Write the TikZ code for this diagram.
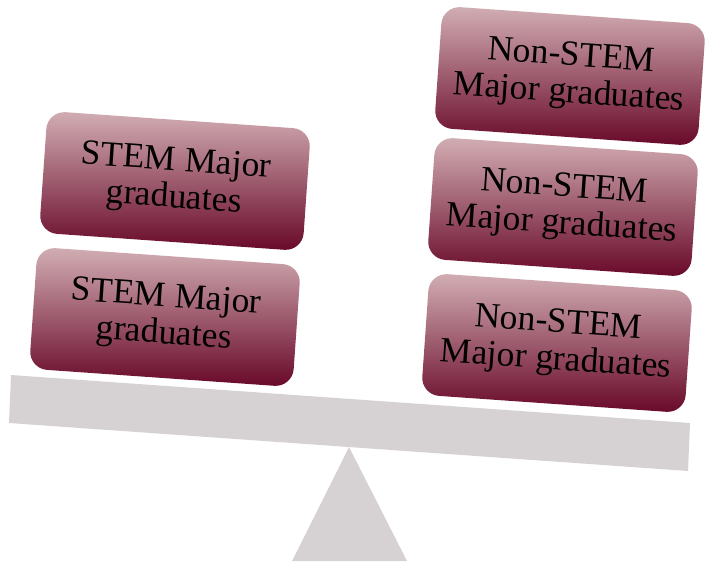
\documentclass[tikz,border=0pt]{standalone}
\usepackage{fontspec}
\setmainfont{Liberation Serif}
\definecolor{boxtop}{RGB}{210,174,180}
\definecolor{boxbot}{RGB}{104,8,40}
\definecolor{beam}{RGB}{214,210,211}

\begin{document}
\begin{tikzpicture}[x=1pt,y=1pt]
\tikzstyle{grad}=[rectangle, rounded corners=18pt, minimum width=264pt, minimum height=122pt, inner sep=0pt, top color=boxtop, bottom color=boxbot, rotate=-4, align=center, font=\fontsize{35.5}{37}\selectfont]
\useasboundingbox (0,0) rectangle (707,-564);
% seesaw
\fill [beam] (11,-375) -- (690,-423) -- (688,-471) -- (9,-423) -- cycle;
\fill [beam] (349,-447) -- (407,-561) -- (292,-561) -- cycle;
% left pile
\node [grad] (stemA) at (165,-317) {STEM Major\\graduates};
\node [grad] (stemB) at (175,-181) {STEM Major\\graduates};
% right pile
\node [grad] (nonA) at (557,-343) {Non-STEM\\Major graduates};
\node [grad] (nonB) at (563,-207) {Non-STEM\\Major graduates};
\node [grad] (nonC) at (570,-76) {Non-STEM\\Major graduates};
\end{tikzpicture}
\end{document}
